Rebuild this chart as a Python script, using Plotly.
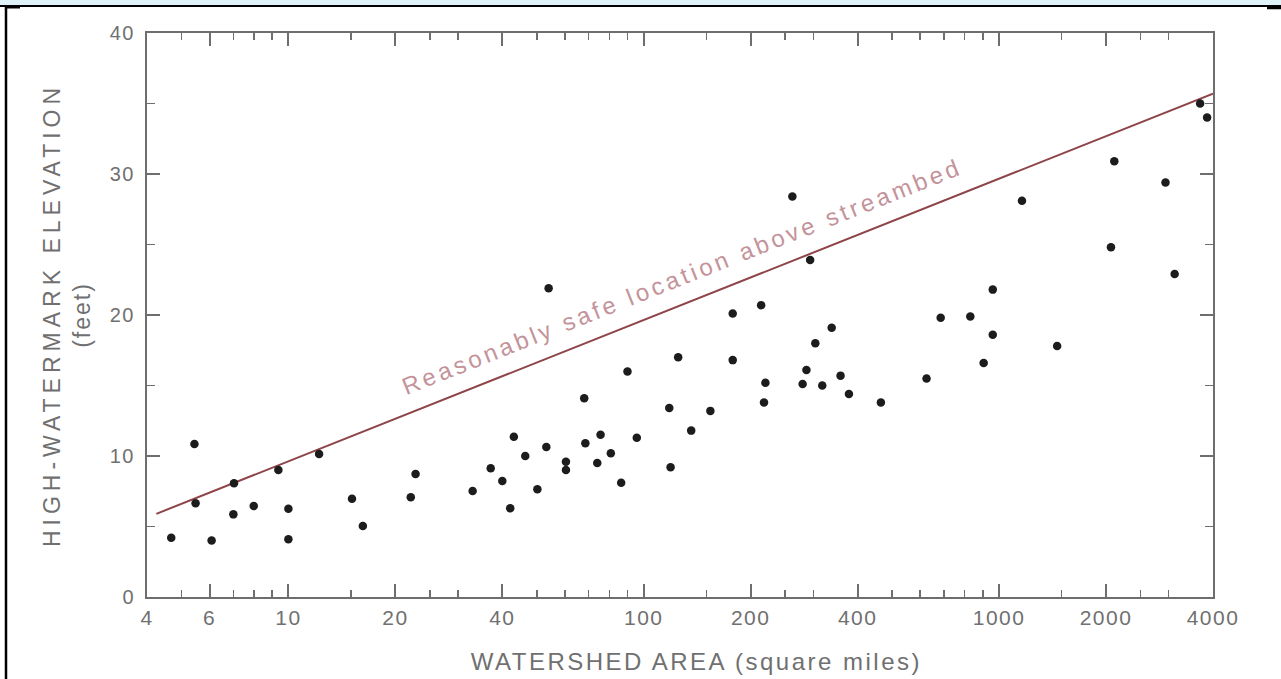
import plotly.graph_objects as go
import numpy as np

# ---- data ----
area_sq_mi = [4.68, 5.44, 5.48, 6.08, 7.03, 7.0, 7.99, 9.37, 10.0, 10.0,
              12.2, 15.1, 16.2, 22.1, 22.8, 33.0, 37.1, 40.0, 42.1, 43.1,
              46.4, 50.2, 53.2, 54.0, 60.4, 60.4, 68.0, 68.5, 75.6, 74.0,
              80.8, 86.4, 90.0, 95.6, 118, 119, 125, 136, 154, 178,
              178, 214, 220, 218, 262, 280, 287, 294, 304, 318,
              338, 358, 378, 465, 625, 685, 830, 905, 960, 960,
              1160, 1457, 2065, 2110, 2940, 3120, 3680, 3850]
elev_ft = [4.2, 10.85, 6.65, 4.0, 8.06, 5.86, 6.45, 9.0, 6.26, 4.09,
           10.14, 6.97, 5.03, 7.07, 8.72, 7.52, 9.13, 8.23, 6.29, 11.37,
           10.0, 7.64, 10.64, 21.9, 9.6, 9.0, 14.1, 10.9, 11.5, 9.5,
           10.2, 8.1, 16.0, 11.3, 13.4, 9.2, 17.0, 11.8, 13.2, 20.1,
           16.8, 20.7, 15.2, 13.8, 28.4, 15.1, 16.1, 23.9, 18.0, 15.0,
           19.1, 15.7, 14.4, 13.8, 15.5, 19.8, 19.9, 16.6, 21.8, 18.6,
           28.1, 17.8, 24.8, 30.9, 29.4, 22.9, 35.0, 34.0]

safe_line_x = [4.25, 4000]
safe_line_y = [5.9, 35.7]
safe_label = "Reasonably safe location above streambed"
x_title = "WATERSHED AREA (square miles)"
y_title = "HIGH-WATERMARK ELEVATION<br>(feet)"

x_ticks = [4, 6, 10, 20, 40, 100, 200, 400, 1000, 2000, 4000]
x_minor = [5, 7, 8, 9, 15, 25, 30, 50, 60, 70, 80, 90, 150, 250, 300,
           500, 600, 700, 800, 900, 1500, 2500, 3000]
y_ticks = [0, 10, 20, 30, 40]
y_minor = [5, 15, 25, 35]

# ---- layout geometry (pixels) ----
W, H = 1281, 679
L, R, T, B = 147, 68, 33, 82
PW, PH = W - L - R, H - T - B


def px(xp):
    return (xp - L) / PW


def py(yp):
    return (H - B - yp) / PH


AX = "#6e6e6e"
TXT = "#707070"
FONT = "Liberation Sans, Arial, Helvetica, sans-serif"

fig = go.Figure()
fig.add_trace(go.Scatter(x=safe_line_x, y=safe_line_y, mode="lines",
                         line=dict(color="#8e4448", width=2),
                         hoverinfo="skip", showlegend=False))
fig.add_trace(go.Scatter(x=area_sq_mi, y=elev_ft, mode="markers",
                         marker=dict(color="#1c1c1c", size=8.5),
                         showlegend=False))

fig.add_annotation(x=np.log10(128), y=22.7, xref="x", yref="y",
                   text=safe_label, showarrow=False, textangle=-21.7,
                   font=dict(family=FONT, size=24, color="#c4939a"))
# x-axis title (placed as in the scan, slightly right of centre)
fig.add_annotation(x=px(696), y=py(661), xref="paper", yref="paper",
                   xanchor="center", yanchor="middle",
                   text=x_title, showarrow=False,
                   font=dict(family=FONT, size=24, color=TXT))

shapes = [
    dict(type="rect", xref="paper", yref="paper", x0=px(0), x1=px(W),
         y0=py(0), y1=py(5.5), fillcolor="#dff2fa", line=dict(width=0), layer="above"),
    dict(type="line", xref="paper", yref="paper", x0=px(0), x1=px(W),
         y0=py(6), y1=py(6), line=dict(color="#000", width=2), layer="above"),
    dict(type="line", xref="paper", yref="paper", x0=px(6), x1=px(6),
         y0=py(6), y1=py(H), line=dict(color="#000", width=2.5), layer="above"),
    dict(type="line", xref="paper", yref="paper", x0=px(6), x1=px(20),
         y0=py(7), y1=py(7), line=dict(color="#000", width=3), layer="above"),
    dict(type="line", xref="paper", yref="paper", x0=px(1267), x1=px(W),
         y0=py(7.5), y1=py(7.5), line=dict(color="#000", width=3.5), layer="above"),
]

fig.update_layout(
    width=W, height=H,
    margin=dict(l=L, r=R, t=T, b=B, autoexpand=False),
    paper_bgcolor="white", plot_bgcolor="white",
    font=dict(family=FONT, color=TXT),
    shapes=shapes,
    showlegend=False,
)

fig.update_xaxes(
    type="log", range=[np.log10(4), np.log10(4000)],
    tickmode="array", tickvals=x_ticks, ticktext=[str(v) for v in x_ticks],
    ticks="inside", ticklen=13, tickwidth=2, tickcolor=AX,
    minor=dict(tickmode="array", tickvals=x_minor, ticks="inside",
               ticklen=7, tickwidth=1.5, tickcolor=AX),
    showline=True, linewidth=2, linecolor=AX, mirror="ticks",
    showgrid=False, zeroline=False,
    tickfont=dict(size=21, color=TXT), ticklabelstandoff=1,
)
fig.update_yaxes(
    range=[0, 40],
    tickmode="array", tickvals=y_ticks, ticktext=[str(v) for v in y_ticks],
    ticks="inside", ticklen=13, tickwidth=2, tickcolor=AX,
    minor=dict(tickmode="array", tickvals=y_minor, ticks="inside",
               ticklen=8, tickwidth=1.5, tickcolor=AX),
    showline=True, linewidth=2, linecolor=AX, mirror="ticks",
    showgrid=False, zeroline=False,
    tickfont=dict(size=20, color=TXT), ticklabelstandoff=6,
    title=dict(text=y_title, font=dict(size=23, color=TXT), standoff=16),
)

css = """
document.body.style.margin = '0';
var st = document.createElement('style');
st.textContent = 'body {margin:0;} ' +
  '.ytitle {letter-spacing: 5px;} .ytitle tspan.line:last-child {letter-spacing: 2px;} ' +
  '.annotation-text {letter-spacing: 3.5px;} ' +
  'text[data-unformatted^="WATERSHED"] {letter-spacing: 2.5px;} ' +
  '.xtick text, .ytick text {letter-spacing: 1.5px;}';
document.head.appendChild(st);
"""
fig.write_html("out.html", post_script=css,
               config={"displayModeBar": False, "staticPlot": True})
